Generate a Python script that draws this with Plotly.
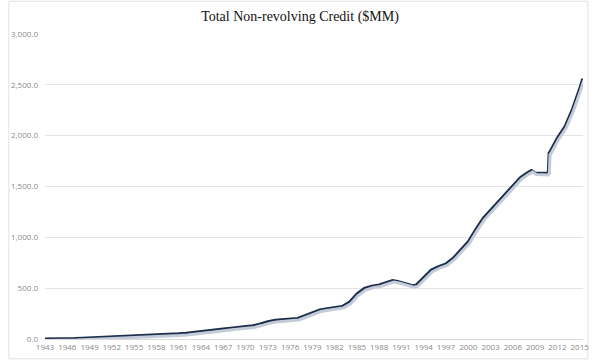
import plotly.graph_objects as go
from datetime import datetime, timedelta

# ---- data ($ billions labelled $MM) ----
years = [1943, 1944, 1945, 1946, 1947, 1948, 1949, 1950, 1951, 1952, 1953, 1954,
         1955, 1956, 1957, 1958, 1959, 1960, 1961, 1962, 1963, 1964, 1965, 1966,
         1967, 1968, 1969, 1970, 1971, 1972, 1973, 1974, 1975, 1976, 1977, 1978,
         1979, 1980, 1981, 1982, 1983, 1984, 1985, 1986, 1987, 1988, 1989, 1989.8,
         1990.5, 1991.4, 1992.5, 1993, 1994, 1995, 1996, 1997, 1998, 1999, 2000,
         2001, 2002, 2003, 2004, 2005, 2006, 2007, 2008, 2008.5, 2009, 2009.5,
         2010, 2010.6, 2010.75, 2010.85, 2011, 2012, 2013, 2014, 2015, 2015.4]
credit = [3, 3, 4, 5, 8, 11, 14, 17, 19, 21, 25, 28,
          31, 35, 38, 41, 44, 48, 53, 58, 65, 75, 84, 93,
          100, 108, 117, 125, 132, 150, 172, 186, 190, 195, 205, 232,
          262, 288, 300, 310, 322, 365, 445, 500, 522, 535, 560, 578,
          568, 548, 527, 535, 610, 680, 715, 742, 800, 880, 960,
          1080, 1190, 1270, 1350, 1420, 1510, 1590, 1640, 1660, 1635, 1632,
          1630, 1632, 1645, 1830, 1845, 1980, 2090, 2260, 2470, 2560]

tick_years = list(range(1943, 2016, 3))
y_ticks = [0, 500, 1000, 1500, 2000, 2500, 3000]
title_text = "Total Non-revolving Credit ($MM)"


def to_date(y):
    yr = int(y)
    frac = y - yr
    start = datetime(yr, 1, 1)
    return start + timedelta(days=frac * 365.25)


dates = [to_date(y) for y in years]
tick_dates = [datetime(y, 1, 1) for y in tick_years]

navy = "#1d2f4d"
shadow = "#c3ccd8"
tick_font = dict(family="Open Sans, Liberation Sans, sans-serif", size=8, color="#8a8a8a")

fig = go.Figure()

# soft shadow: same data drawn on slightly offset overlay axes
fig.add_trace(go.Scatter(x=dates, y=credit, mode="lines", xaxis="x2", yaxis="y2",
                         line=dict(color=shadow, width=3), hoverinfo="skip",
                         showlegend=False))
fig.add_trace(go.Scatter(x=dates, y=credit, mode="lines",
                         line=dict(color=navy, width=2.5), showlegend=False))

x_range = [datetime(1943, 1, 1), to_date(2015.45)]
shift_days = 60
y_shift = 18

fig.update_layout(
    width=600, height=363,
    margin=dict(l=38, r=11, t=34, b=22),
    paper_bgcolor="white", plot_bgcolor="white",
    title=dict(text=title_text, x=0.5, xanchor="center", y=0.955, yanchor="middle",
               font=dict(family="Liberation Serif, DejaVu Serif, serif", size=14,
                         color="#111111")),
    xaxis=dict(type="date", range=x_range, tickvals=tick_dates, tickformat="%Y",
               showgrid=False, showline=True, linecolor="#d9d9d9", linewidth=1,
               ticks="", tickfont=tick_font, zeroline=False),
    xaxis2=dict(type="date", overlaying="x",
                range=[x_range[0] - timedelta(days=shift_days),
                       x_range[1] - timedelta(days=shift_days)],
                visible=False),
    yaxis=dict(range=[0, 3000], tickvals=y_ticks, tickformat=",.1f",
               showgrid=True, gridcolor="#e4e4e4", gridwidth=1, zeroline=False,
               ticks="", tickfont=tick_font, ticklabelstandoff=6),
    yaxis2=dict(overlaying="y", range=[y_shift, 3000 + y_shift], visible=False),
    shapes=[dict(type="rect", xref="paper", yref="paper",
                 x0=-37 / 551, x1=1 + 5 / 551, y0=-20 / 307, y1=1 + 33 / 307,
                 line=dict(color="#e2e2e2", width=1), layer="below")],
)

fig.write_html("out.html", config={"displayModeBar": False},
               post_script="document.body.style.margin='0';document.body.style.padding='0';")
